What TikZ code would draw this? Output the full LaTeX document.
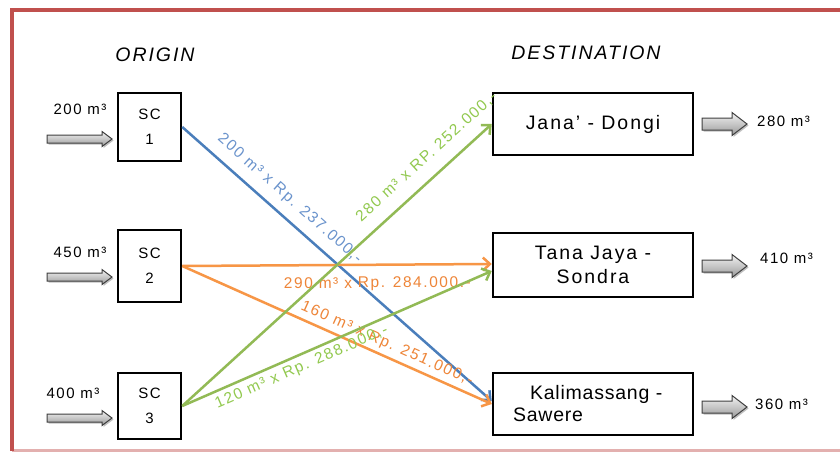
\documentclass[tikz,border=0pt]{standalone}
\usepackage{fontspec}
\setmainfont{Liberation Sans}[LetterSpace=10]
\usetikzlibrary{arrows.meta}

\definecolor{frame}{HTML}{C0504D}
\definecolor{bline}{HTML}{4A7EBB}
\definecolor{blabel}{HTML}{6A93CC}
\definecolor{gline}{HTML}{92BA55}
\definecolor{glabel}{HTML}{92C94F}
\definecolor{oline}{HTML}{F79646}
\definecolor{olabel}{HTML}{EE8538}

\begin{document}
\begin{tikzpicture}[x=1pt, y=-1pt,
  box/.style={draw=black, line width=2.5pt, fill=white, inner sep=0pt},
  scbox/.style={box, minimum width=63pt, minimum height=68pt, align=center,
    font=\fontsize{15}{25}\selectfont},
  destbox/.style={box, minimum width=200pt, minimum height=62pt, align=center,
    font=\fontsize{19.5}{24}\selectfont},
  heading/.style={font=\fontsize{19.5}{22}\selectfont\itshape, inner sep=0pt},
  amount/.style={font=\fontsize{15}{18}\selectfont, inner sep=0pt},
  cost/.style={font=\fontsize{15.5}{18}\selectfont, inner sep=0pt, sloped},
  route/.style={line width=2.5pt, -{Straight Barb[length=7pt, width=13pt]}},
  blockarrow/.style={draw=black!75, line width=1pt, top color=black!5, bottom color=black!40,
    preaction={fill=black!25, transform canvas={xshift=1.5pt, yshift=-1.5pt}}},
  pics/inarrow/.style={code={
    \path[blockarrow] (0,-4) -- (55,-4) -- (55,-7.5) -- (65,0) -- (55,7.5) -- (55,4) -- (0,4) -- cycle;}},
  pics/outarrow/.style={code={
    \path[blockarrow] (0,-6) -- (30,-6) -- (30,-11.5) -- (45,0) -- (30,11.5) -- (30,6) -- (0,6) -- cycle;}},
]
\useasboundingbox (0,0) rectangle (840,452);
\fill[white] (0,0) rectangle (840,452);

% outer frame: strong top and left edges, pale bottom edge
\draw[frame!45, line width=4.5pt] (12,451) -- (860,451);
\draw[frame, line width=4.5pt] (12,451) -- (12,10) -- (860,10);

% column headings
\node[heading] (origin) at (155,55) {ORIGIN};
\node[heading] (dest) at (586,53) {DESTINATION};

% sources
\node[scbox] (sc1) at (149.5,127) {SC\\1};
\node[scbox, minimum height=72pt] (sc2) at (149.5,266) {SC\\2};
\node[scbox, minimum height=66pt] (sc3) at (149.5,406) {SC\\3};

% destinations
\node[destbox] (jana) at (593,124) {Jana' - Dongi};
\node[destbox, minimum height=64pt] (tana) at (593,265) {Tana Jaya -\\Sondra};
\node[destbox, text width=160pt, align=left,
      font=\fontsize{19.5}{22}\selectfont\addfontfeature{LetterSpace=4}]
      (kal) at (593,404) {\hspace*{17pt}Kalimassang -\\Sawere};

% supply arrows and amounts
\pic at (47,139) {inarrow};
\pic at (47,277) {inarrow};
\pic at (47,418) {inarrow};
\node[amount] (s1) at (80,109) {200 m³};
\node[amount] (s2) at (80,252) {450 m³};
\node[amount] (s3) at (73,393) {400 m³};

% demand arrows and amounts
\pic at (702,124) {outarrow};
\pic at (702,266) {outarrow};
\pic at (702,407) {outarrow};
\node[amount, anchor=west] (d1) at (757,121) {280 m³};
\node[amount, anchor=west] (d2) at (760,258) {410 m³};
\node[amount, anchor=west] (d3) at (755,404) {360 m³};

% shipping routes with unit costs
\draw[route, bline] (sc1.east) --
  node[cost, blabel, pos=0.31, above=9pt] (c13) {200 m³ x Rp. 237.000,-}
  ([yshift=3pt]kal.west);
\draw[route, oline] (sc2.east) --
  node[cost, olabel, pos=0.63, below=11pt] (c22) {290 m³ x Rp. 284.000.-}
  ([yshift=1pt]tana.west);
\draw[route, oline] (sc2.east) --
  node[cost, olabel, pos=0.645, above=4pt] (c23) {160 m³ x Rp. 251.000,-}
  (kal.west);
\draw[route, gline] (sc3.east) --
  node[cost, glabel, pos=0.832, above=12pt] (c31) {280 m³ x RP. 252.000,-}
  (jana.west);
\draw[route, gline] (sc3.east) --
  node[cost, glabel, pos=0.37, below=4pt] (c32) {120 m³ x Rp. 288.000,-}
  ([yshift=-6pt]tana.west);
\end{tikzpicture}
\end{document}
